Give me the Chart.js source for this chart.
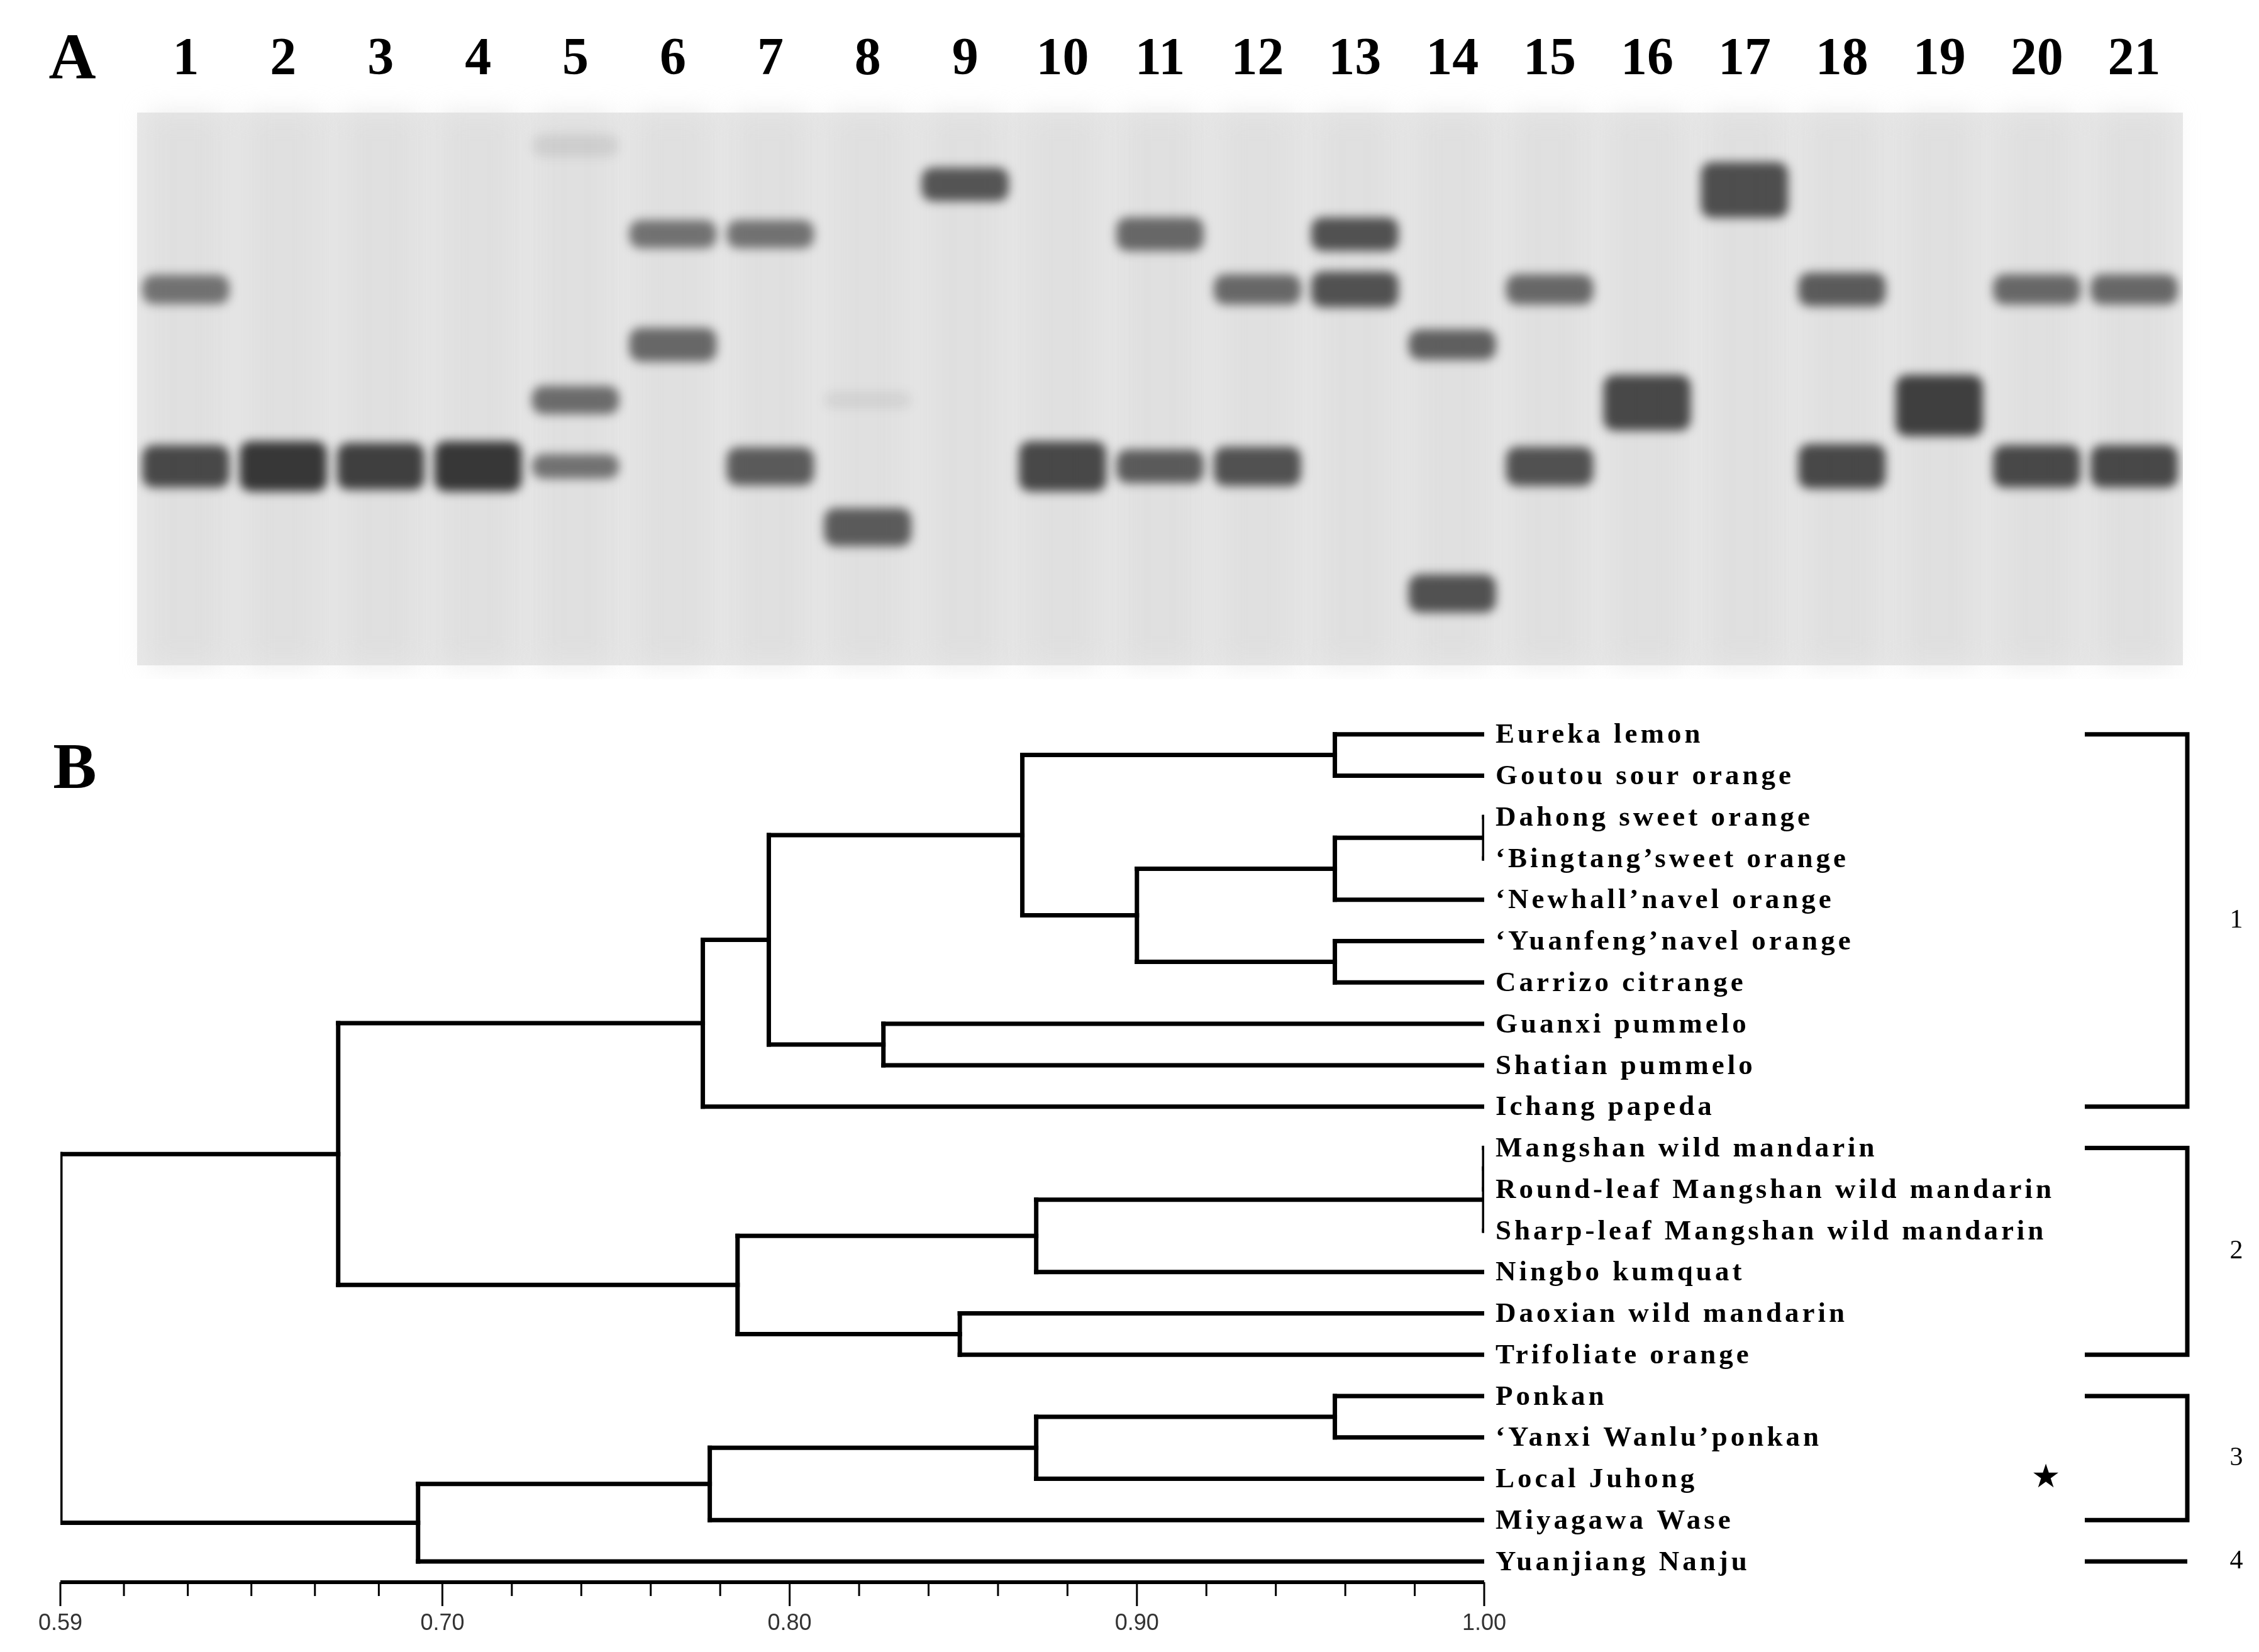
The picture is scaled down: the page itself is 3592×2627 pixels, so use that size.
<!DOCTYPE html>
<html>
<head>
<meta charset="utf-8">
<script src="https://cdn.jsdelivr.net/npm/chart.js@4"></script>
<style>
  html, body { margin: 0; padding: 0; background: #fff; }
  body { width: 3592px; height: 2627px; position: relative; overflow: hidden; }
  canvas { position: absolute; left: 0; }
  #gel { top: 0; }
  #tree { top: 1080px; }
</style>
</head>
<body>
<canvas id="gel" width="3592" height="1080"></canvas>
<canvas id="tree" width="3592" height="1547"></canvas>
<script>
// Panel A: gel bands (lane, migration position 0-100 from top, half thickness, darkness)
const lanes = [1, 2, 3, 4, 5, 6, 7, 8, 9, 10, 11, 12, 13, 14, 15, 16, 17, 18, 19, 20, 21]
const bandLane = [1, 1, 2, 3, 4, 5, 5, 5, 6, 6, 7, 7, 8, 8, 9, 10, 11, 11, 12, 12, 13, 13, 14, 14, 15, 15, 16, 17, 18, 18, 19, 20, 20, 21, 21]
const bandPos = [32, 64, 64, 64, 64, 6, 52, 64, 22, 42, 22, 64, 52, 75, 13, 64, 22, 64, 32, 64, 22, 32, 42, 87, 32, 64, 52.5, 14, 32, 64, 53, 32, 64, 32, 64]
const bandHalf = [2.6, 3.8, 4.5, 4.2, 4.5, 2, 2.5, 2.2, 2.5, 3, 2.5, 3.4, 1.5, 3.4, 3, 4.5, 3, 3, 2.7, 3.5, 3, 3.2, 2.7, 3.4, 2.7, 3.5, 5, 5, 3, 4, 5.5, 2.7, 3.8, 2.7, 3.8]
const bandDark = [0.62, 0.85, 0.95, 0.9, 0.95, 0.1, 0.65, 0.62, 0.62, 0.68, 0.62, 0.75, 0.08, 0.75, 0.78, 0.85, 0.68, 0.75, 0.68, 0.8, 0.8, 0.8, 0.72, 0.8, 0.68, 0.8, 0.85, 0.82, 0.75, 0.85, 0.9, 0.68, 0.85, 0.68, 0.85]

// Panel B: dendrogram
const leafNames = [
  "Eureka lemon", "Goutou sour orange", "Dahong sweet orange", "\u2018Bingtang\u2019sweet orange",
  "\u2018Newhall\u2019navel orange", "\u2018Yuanfeng\u2019navel orange", "Carrizo citrange",
  "Guanxi pummelo", "Shatian pummelo", "Ichang papeda", "Mangshan wild mandarin",
  "Round-leaf Mangshan wild mandarin", "Sharp-leaf Mangshan wild mandarin", "Ningbo kumquat",
  "Daoxian wild mandarin", "Trifoliate orange", "Ponkan", "\u2018Yanxi Wanlu\u2019ponkan",
  "Local Juhong", "Miyagawa Wase", "Yuanjiang Nanju"
]
// merge k creates node 21+k
const mergeA = [0, 2, 22, 5, 23, 21, 7, 26, 28, 10, 30, 31, 14, 32, 29, 16, 36, 37, 38, 35]
const mergeB = [1, 3, 4, 6, 24, 25, 8, 27, 9, 11, 12, 13, 15, 33, 34, 17, 18, 19, 20, 39]
const mergeH = [0.957, 1.00, 0.957, 0.957, 0.900, 0.867, 0.827, 0.794, 0.775, 1.00, 1.00, 0.871, 0.849, 0.785, 0.670, 0.957, 0.871, 0.777, 0.693, 0.59]

const majorTicks = [0.59, 0.70, 0.80, 0.90, 1.00]
const minorTicks = [0.6083, 0.6267, 0.645, 0.6633, 0.6817, 0.72, 0.74, 0.76, 0.78, 0.82, 0.84, 0.86, 0.88, 0.92, 0.94, 0.96, 0.98]

const groupNames = ["1", "2", "3", "4"]
const groupStart = [0, 10, 16, 20]
const groupEnd = [9, 15, 19, 20]
const starLeaf = 18

const serif = '"Liberation Serif", "Times New Roman", serif'

// ---------- Panel A ----------
const gelBars = bandLane.map((lane, i) => ({ x: lane, y: [bandPos[i] - bandHalf[i], bandPos[i] + bandHalf[i]] }))
const gelColors = bandDark.map((d) => `rgba(45, 45, 45, ${d})`)

const gelPlugin = {
  id: "gelPlugin",
  beforeDatasetsDraw(chart) {
    const { ctx, chartArea: a, scales } = chart
    ctx.save()
    ctx.fillStyle = "#e8e8e8"
    ctx.fillRect(a.left, a.top, a.right - a.left, a.bottom - a.top)
    // faint lane smears
    ctx.filter = "blur(20px)"
    lanes.forEach((l) => {
      const x = scales.x.getPixelForValue(l)
      ctx.fillStyle = "rgba(215, 215, 215, 0.5)"
      ctx.fillRect(x - 60, a.top, 120, a.bottom - a.top)
    })
    ctx.restore()
    ctx.save()
    ctx.beginPath()
    ctx.rect(a.left, a.top, a.right - a.left, a.bottom - a.top)
    ctx.clip()
    ctx.filter = "blur(8px)"
  },
  afterDatasetsDraw(chart) {
    const { ctx, scales } = chart
    ctx.restore()
    ctx.save()
    ctx.fillStyle = "#000"
    ctx.font = `bold 84px ${serif}`
    ctx.textAlign = "center"
    ctx.textBaseline = "middle"
    lanes.forEach((l) => {
      ctx.fillText(String(l), scales.x.getPixelForValue(l), 96)
    })
    ctx.font = `bold 104px ${serif}`
    ctx.fillText("A", 115, 98)
    ctx.restore()
  },
}

new Chart(document.getElementById("gel"), {
  type: "bar",
  data: {
    datasets: [
      {
        data: gelBars,
        backgroundColor: gelColors,
        borderWidth: 0,
        barThickness: 138,
        borderRadius: 18,
        borderSkipped: false,
      },
    ],
  },
  options: {
    responsive: false,
    devicePixelRatio: 1,
    animation: false,
    layout: { padding: { left: 218, right: 121, top: 179, bottom: 22 } },
    plugins: { legend: { display: false }, tooltip: { enabled: false } },
    scales: {
      x: { type: "linear", min: 0.5, max: 21.5, offset: false, display: false },
      y: { min: 0, max: 100, reverse: true, display: false },
    },
  },
  plugins: [gelPlugin],
})

// ---------- Panel B ----------
const nodeY = leafNames.map((_, i) => i)
const nodeH = leafNames.map(() => 1.0)
const segments = []
mergeA.forEach((a, k) => {
  const b = mergeB[k]
  const h = mergeH[k]
  segments.push([{ x: h, y: nodeY[a] }, { x: nodeH[a], y: nodeY[a] }])
  segments.push([{ x: h, y: nodeY[b] }, { x: nodeH[b], y: nodeY[b] }])
  segments.push([{ x: h, y: nodeY[a] }, { x: h, y: nodeY[b] }])
  nodeY.push((nodeY[a] + nodeY[b]) / 2)
  nodeH.push(h)
})

const treePlugin = {
  id: "treePlugin",
  afterDatasetsDraw(chart) {
    const { ctx, chartArea: a, scales } = chart
    const xs = scales.x
    const ys = scales.y
    ctx.save()
    // leaf labels
    ctx.fillStyle = "#000"
    ctx.font = `bold 45px ${serif}`
    ctx.letterSpacing = "5px"
    ctx.textBaseline = "middle"
    ctx.textAlign = "left"
    const lx = xs.getPixelForValue(1.0) + 18
    leafNames.forEach((n, i) => ctx.fillText(n, lx, ys.getPixelForValue(i) + 2))
    ctx.letterSpacing = "0px"

    // x axis
    ctx.strokeStyle = "#000"
    ctx.lineWidth = 6
    const ay = a.bottom
    ctx.beginPath()
    ctx.moveTo(xs.getPixelForValue(0.59), ay)
    ctx.lineTo(xs.getPixelForValue(1.0), ay)
    ctx.stroke()
    ctx.lineWidth = 3
    minorTicks.forEach((t) => {
      const x = xs.getPixelForValue(t)
      ctx.beginPath()
      ctx.moveTo(x, ay)
      ctx.lineTo(x, ay + 22)
      ctx.stroke()
    })
    ctx.font = '36px "Liberation Sans Narrow", "Liberation Sans", sans-serif'
    ctx.fillStyle = "#333"
    ctx.textAlign = "center"
    ctx.textBaseline = "middle"
    majorTicks.forEach((t) => {
      const x = xs.getPixelForValue(t)
      ctx.beginPath()
      ctx.moveTo(x, ay)
      ctx.lineTo(x, ay + 38)
      ctx.stroke()
      ctx.fillText(t.toFixed(2), x, ay + 66)
    })

    // group brackets
    const bx0 = 3315
    const bx1 = 3478
    ctx.lineWidth = 7
    ctx.fillStyle = "#000"
    ctx.font = `42px ${serif}`
    groupNames.forEach((g, i) => {
      const y0 = ys.getPixelForValue(groupStart[i])
      const y1 = ys.getPixelForValue(groupEnd[i])
      ctx.beginPath()
      if (groupStart[i] === groupEnd[i]) {
        ctx.moveTo(bx0, y0)
        ctx.lineTo(bx1, y0)
      } else {
        ctx.moveTo(bx0, y0)
        ctx.lineTo(bx1, y0)
        ctx.lineTo(bx1, y1)
        ctx.lineTo(bx0, y1)
      }
      ctx.stroke()
      ctx.fillText(g, 3556, (y0 + y1) / 2)
    })
    ctx.font = `52px "DejaVu Sans", sans-serif`
    ctx.fillText("\u2605", 3253, ys.getPixelForValue(starLeaf))

    ctx.font = `bold 104px ${serif}`
    ctx.fillText("B", 119, 1226 - 1080)
    ctx.restore()
  },
}

new Chart(document.getElementById("tree"), {
  type: "scatter",
  data: {
    datasets: segments.map((s) => ({
      data: s,
      showLine: true,
      borderColor: "#000",
      borderWidth: 7,
      pointRadius: 0,
      borderCapStyle: "square",
    })),
  },
  options: {
    responsive: false,
    devicePixelRatio: 1,
    animation: false,
    layout: { padding: { left: 96, right: 1232, top: 68, bottom: 111 } },
    plugins: { legend: { display: false }, tooltip: { enabled: false } },
    scales: {
      x: { type: "linear", min: 0.59, max: 1.0, display: false },
      y: { type: "linear", min: -0.3, max: 20.5, reverse: true, display: false },
    },
  },
  plugins: [treePlugin],
})
</script>
</body>
</html>
